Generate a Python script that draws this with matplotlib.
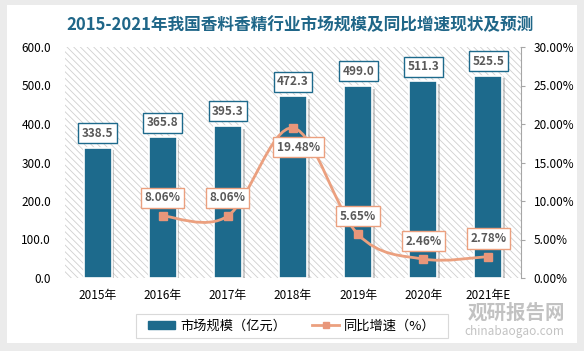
import numpy as np
import matplotlib.pyplot as plt
import matplotlib.patheffects as pe
from matplotlib.path import Path
from matplotlib.patches import PathPatch, Rectangle, Patch
from matplotlib.lines import Line2D

plt.rcParams['font.family'] = ['Noto Sans CJK SC', 'DejaVu Sans']
plt.rcParams['hatch.linewidth'] = 0.6

# 数据
years = ['2015年', '2016年', '2017年', '2018年', '2019年', '2020年', '2021年E']
market = [338.5, 365.8, 395.3, 472.3, 499.0, 511.3, 525.5]
growth_years = [1, 2, 3, 4, 5, 6]
growth = [8.06, 8.06, 19.48, 5.65, 2.46, 2.78]

bar_c = '#1d6a8c'
line_c = '#eba07f'
txt_c = '#595959'

fig = plt.figure(figsize=(5.84, 3.51), dpi=100, facecolor='#ebebeb')
fig.patches.append(Rectangle((7 / 584, 1 - 343 / 351), 570 / 584, 338 / 351,
                             transform=fig.transFigure, facecolor='white',
                             edgecolor='none', zorder=-5))

ax = fig.add_axes([65 / 584, 1 - 278 / 351, 456 / 584, 231 / 351])
ax.patch.set_facecolor('white')
ax.patch.set_hatch('\\' * 5)
ax.patch.set_edgecolor('#cfcfcf')
ax.patch.set_linewidth(0)

x = np.arange(len(years))
bars = ax.bar(x, market, width=0.43, color=bar_c, edgecolor='white', linewidth=1.2,
              zorder=2)
for b in bars:
    b.set_path_effects([pe.SimplePatchShadow(offset=(2, -2), shadow_rgbFace='#777777',
                                             alpha=0.35), pe.Normal()])
for xi, v in zip(x, market):
    ax.annotate(f'{v:.1f}', (xi, v), xytext=(0, 10.5), textcoords='offset points',
                ha='center', va='center', fontsize=8.5, fontweight='bold', color=txt_c,
                bbox=dict(boxstyle='square,pad=0.3', fc='white', ec=bar_c, lw=1.0),
                zorder=5)

ax.set_xlim(-0.5, 6.5)
ax.set_ylim(0, 600)
ax.set_yticks(np.arange(0, 601, 100))
ax.set_yticklabels([f'{v:.1f}' for v in np.arange(0, 601, 100)])
ax.set_xticks(x)
ax.set_xticklabels(years)
ax.tick_params(axis='both', length=0, labelsize=8.5, colors='black')
ax.tick_params(axis='y', pad=10)
ax.tick_params(axis='x', pad=8)
for s in ax.spines.values():
    s.set_visible(False)

ax2 = ax.twinx()
ax2.set_ylim(0, 30)
ax2.set_yticks(np.arange(0, 31, 5))
ax2.set_yticklabels([f'{v:.2f}%' for v in np.arange(0, 31, 5)])
ax2.tick_params(axis='y', length=3, labelsize=8.5, colors='black', color='#a6a6a6', pad=6)
for s in ['top', 'left', 'bottom']:
    ax2.spines[s].set_visible(False)
ax2.spines['right'].set_color('#a6a6a6')
ax2.spines['right'].set_linewidth(0.8)

# 平滑曲线
pts = np.column_stack([growth_years, growth]).astype(float)
verts = [pts[0]]
codes = [Path.MOVETO]
n = len(pts)
for i in range(n - 1):
    p0 = pts[i - 1] if i > 0 else pts[i]
    p1, p2 = pts[i], pts[i + 1]
    p3 = pts[i + 2] if i + 2 < n else pts[i + 1]
    verts += [p1 + (p2 - p0) / 6, p2 - (p3 - p1) / 6, p2]
    codes += [Path.CURVE4] * 3
ax2.add_patch(PathPatch(Path(verts, codes), fc='none', ec=line_c, lw=2, zorder=3))
ax2.plot(growth_years, growth, ls='none', marker='s', ms=6, color='#e8967a', zorder=4)

for xi, v in zip(growth_years, growth):
    off = (4, -14) if v > 15 else (0, 13)
    ax2.annotate(f'{v:.2f}%', (xi, v), xytext=off, textcoords='offset points',
                 ha='center', va='center', fontsize=8.5, fontweight='bold', color=txt_c,
                 bbox=dict(boxstyle='square,pad=0.3', fc='white', ec=line_c, lw=1.0),
                 zorder=5)

fig.text(300 / 584, 1 - 25 / 351, '2015-2021年我国香料香精行业市场规模及同比增速现状及预测',
         ha='center', va='center', fontsize=12, fontweight='bold', color='#1f6688')

# 图例
fig.patches.append(Rectangle((136 / 584, 1 - 338 / 351), 312 / 584, 24 / 351,
                             transform=fig.transFigure, fc='white', ec='#d9d9d9', lw=0.8,
                             zorder=1))
handles = [Patch(color=bar_c, label='市场规模（亿元）'),
           Line2D([], [], color=line_c, lw=2, marker='s', ms=5,
                  markerfacecolor='#e8967a', markeredgecolor='#e8967a', label='同比增速（%）')]
fig.legend(handles=handles, loc='center', bbox_to_anchor=(292 / 584, 1 - 326 / 351),
           ncol=2, frameon=False, fontsize=9.5, handlelength=2.0, handleheight=0.5,
           columnspacing=2.0, handletextpad=0.4)

# 水印
fig.text(516 / 584, 1 - 313 / 351, '观研报告网', ha='center', va='center', fontsize=14,
         fontweight='bold', color='#9a9a9a', alpha=0.6)
fig.text(514 / 584, 1 - 331 / 351, 'chinabaogao.com', ha='center', va='center',
         fontsize=8.5, color='#9a9a9a', alpha=0.6)

fig.savefig('out.png', dpi=100, facecolor=fig.get_facecolor())
